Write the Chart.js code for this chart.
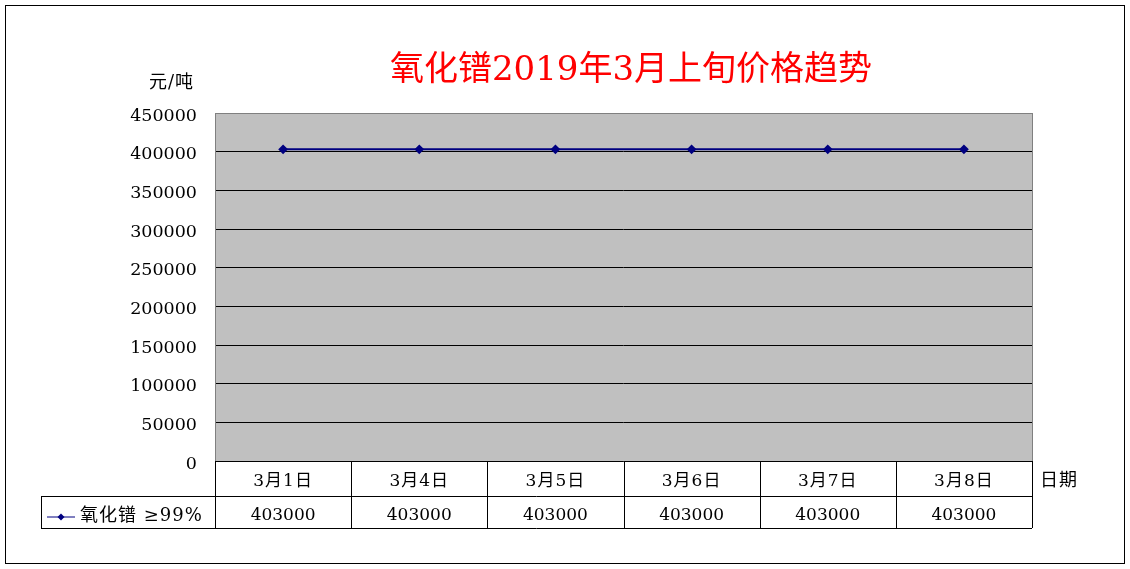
<!DOCTYPE html>
<html lang="zh">
<head>
    <meta charset="UTF-8">
    <title>氧化镨价格趋势</title>
    <script src="https://cdn.jsdelivr.net/npm/chart.js"></script>
    <style>
        body {
            margin: 0;
            background: #fff;
        }
        .wrap {
            width: 1130px;
            height: 569px;
        }
    </style>
</head>
<body>

<div class="wrap">
    <canvas id="priceChart" width="1130" height="569"></canvas>
</div>

<script>
    // chart data
    var dates = ['3月1日', '3月4日', '3月5日', '3月6日', '3月7日', '3月8日'];
    var prices = [403000, 403000, 403000, 403000, 403000, 403000];
    var seriesName = '氧化镨 ≥99%';
    var yTicks = [0, 50000, 100000, 150000, 200000, 250000, 300000, 350000, 400000, 450000];

    var FONT = '"DejaVu Serif", "Noto Sans CJK SC", serif';
    var NAVY = '#000080';

    // grey plot background, frame, axis titles and the data table
    var excelLook = {
        id: 'excelLook',
        beforeDraw: function (chart) {
            var a = chart.chartArea, c = chart.ctx;
            c.save();
            c.fillStyle = '#fff';
            c.fillRect(0, 0, chart.width, chart.height);
            c.fillStyle = '#C0C0C0';
            c.fillRect(a.left, a.top, a.right - a.left, a.bottom - a.top);
            c.restore();
        },
        afterDraw: function (chart) {
            var a = chart.chartArea, c = chart.ctx;
            var x = chart.scales.x;
            var n = dates.length;
            var colW = (a.right - a.left) / n;
            var row1 = a.bottom, row2 = a.bottom + 35, row3 = a.bottom + 67;
            var legendLeft = 41;

            c.save();
            // plot frame
            c.strokeStyle = '#808080';
            c.lineWidth = 1;
            c.strokeRect(a.left + 0.5, a.top + 0.5, a.right - a.left, a.bottom - a.top);

            // outer chart border
            c.strokeStyle = '#000';
            c.strokeRect(5.5, 5.5, 1119, 558);

            // table lines
            c.beginPath();
            c.moveTo(a.left, row1 + 0.5); c.lineTo(a.right, row1 + 0.5);
            c.moveTo(legendLeft, row2 + 0.5); c.lineTo(a.right, row2 + 0.5);
            c.moveTo(legendLeft, row3 + 0.5); c.lineTo(a.right, row3 + 0.5);
            c.moveTo(legendLeft + 0.5, row2); c.lineTo(legendLeft + 0.5, row3);
            for (var i = 0; i <= n; i++) {
                var lx = Math.round(a.left + i * colW) + 0.5;
                c.moveTo(lx, row1); c.lineTo(lx, row3);
            }
            c.stroke();

            // table text
            var catY = (row1 + row2) / 2 + 3;
            var valY = (row2 + row3) / 2 + 4;
            c.fillStyle = '#000';
            c.font = '17px ' + FONT;
            c.textAlign = 'center';
            c.textBaseline = 'middle';
            for (var j = 0; j < n; j++) {
                var cx = x.getPixelForValue(j);
                c.letterSpacing = '1px';
                c.fillText(dates[j], cx, catY);
                c.letterSpacing = '0px';
                c.fillText(String(prices[j]), cx, valY);
            }

            // legend key inside the table
            c.strokeStyle = NAVY;
            c.beginPath();
            c.moveTo(47, valY + 1); c.lineTo(75, valY + 1);
            c.stroke();
            c.fillStyle = NAVY;
            c.beginPath();
            c.moveTo(61, valY - 2.5); c.lineTo(64.5, valY + 1); c.lineTo(61, valY + 4.5); c.lineTo(57.5, valY + 1);
            c.closePath();
            c.fill();
            c.fillStyle = '#000';
            c.textAlign = 'left';
            c.font = '18px ' + FONT;
            c.letterSpacing = '1px';
            c.fillText(seriesName, 80, valY);

            // axis titles
            c.fillText('日期', 1040, catY);
            c.fillText('元/吨', 149, 83);

            // title
            c.letterSpacing = '0px';
            c.fillStyle = '#FF0000';
            c.font = '34px ' + FONT;
            c.textAlign = 'center';
            c.fillText('氧化镨2019年3月上旬价格趋势', 631, 71);
            c.restore();
        }
    };

    var ctx = document.getElementById('priceChart').getContext('2d');
    new Chart(ctx, {
        type: 'line',
        data: {
            labels: dates,
            datasets: [{
                label: seriesName,
                data: prices,
                borderColor: NAVY,
                backgroundColor: NAVY,
                borderWidth: 2,
                pointStyle: 'rectRot',
                pointRadius: 3.5,
                pointHoverRadius: 3.5,
                tension: 0
            }]
        },
        options: {
            responsive: false,
            animation: false,
            layout: {
                padding: { left: 0, top: 113, right: 98, bottom: 108 }
            },
            plugins: {
                legend: { display: false },
                tooltip: { enabled: false },
                title: { display: false }
            },
            scales: {
                x: {
                    type: 'category',
                    offset: true,
                    display: false
                },
                y: {
                    min: 0,
                    max: 450000,
                    afterFit: function (scale) { scale.width = 215; },
                    afterBuildTicks: function (scale) {
                        scale.ticks = yTicks.map(function (v) { return { value: v }; });
                    },
                    border: { display: false },
                    grid: {
                        drawTicks: false,
                        color: function (c) { return c.tick && c.tick.value === 450000 ? '#808080' : '#000'; },
                        lineWidth: 1
                    },
                    ticks: {
                        color: '#000',
                        padding: 18,
                        labelOffset: 3,
                        font: { family: FONT, size: 17.5 },
                        callback: function (v) { return String(v); }
                    }
                }
            }
        },
        plugins: [excelLook]
    });
</script>

</body>
</html>
